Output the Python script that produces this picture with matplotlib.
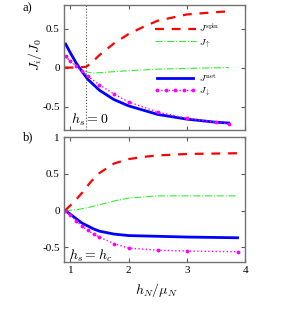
import numpy as np
import matplotlib
matplotlib.use("Agg")
import matplotlib.pyplot as plt

plt.rcParams['font.family'] = ['Liberation Serif', 'DejaVu Serif']
plt.rcParams['mathtext.fontset'] = 'cm'

# ---- panel a) h_s = 0 ----
xa_spin = [0.9, 1.1, 1.27, 1.35, 1.5, 1.75, 2.0, 2.25, 2.5, 3.0, 3.5, 3.72]
ya_spin = [0.0, 0.0, 0.01, 0.05, 0.16, 0.31, 0.43, 0.52, 0.60, 0.68, 0.71, 0.72]
xa_up = [0.92, 1.0, 1.1, 1.2, 1.3, 1.4, 1.6, 2.0, 2.5, 3.0, 3.72]
ya_up = [0.13, 0.08, 0.02, -0.03, -0.06, -0.07, -0.06, -0.04, -0.02, -0.01, 0.0]
xa_net = [0.92, 1.0, 1.1, 1.2, 1.3, 1.5, 1.75, 2.0, 2.5, 3.0, 3.5, 3.72]
ya_net = [0.30, 0.19, 0.06, -0.05, -0.15, -0.29, -0.41, -0.49, -0.60, -0.66, -0.70, -0.71]
xa_dn = [0.92, 1.0, 1.1, 1.2, 1.3, 1.5, 1.75, 2.0, 2.5, 3.0, 3.5, 3.72]
ya_dn = [0.15, 0.09, 0.02, -0.05, -0.11, -0.22, -0.34, -0.44, -0.57, -0.65, -0.70, -0.72]
x_mark = 1.27

# ---- panel b) h_s = h_c ----
xb_spin = [0.91, 1.0, 1.1, 1.2, 1.35, 1.5, 1.75, 2.0, 2.25, 2.5, 3.0, 3.87]
yb_spin = [0.0, 0.07, 0.15, 0.24, 0.39, 0.51, 0.64, 0.70, 0.73, 0.75, 0.77, 0.78]
xb_up = [0.91, 1.1, 1.3, 1.5, 1.75, 2.0, 2.5, 3.0, 3.87]
yb_up = [0.0, 0.01, 0.04, 0.08, 0.13, 0.17, 0.20, 0.20, 0.20]
xb_net = [0.91, 1.0, 1.1, 1.2, 1.3, 1.4, 1.5, 1.75, 2.0, 2.5, 3.0, 3.87]
yb_net = [0.0, -0.05, -0.11, -0.17, -0.21, -0.25, -0.28, -0.32, -0.34, -0.35, -0.36, -0.37]
xb_dn = [0.91, 1.0, 1.1, 1.2, 1.3, 1.4, 1.5, 1.75, 2.0, 2.5, 3.0, 3.87]
yb_dn = [0.0, -0.06, -0.14, -0.21, -0.27, -0.32, -0.36, -0.45, -0.51, -0.54, -0.55, -0.56]

xticks = [1, 2, 3, 4]
yticks_a = [-0.5, 0, 0.5]
ytlab_a = ['-0.5', '0', '0.5']
yticks_b = [-0.5, 0, 0.5, 1]
ytlab_b = ['-0.5', '0', '0.5', '1']

fig = plt.figure(figsize=(3.0, 3.18), dpi=100)
axa = fig.add_axes([0.213, 0.591, 0.604, 0.393])
axb = fig.add_axes([0.213, 0.176, 0.604, 0.393])

def draw(ax, xs, ys, xu, yu, xn, yn, xd, yd):
    l1, = ax.plot(xs, ys, color='#ff0000', lw=1.6, ls=(0, (4, 3.5)), label=r'$J^{\rm spin}$')
    l2, = ax.plot(xu, yu, color='#33ee33', lw=0.8, ls='-.', label=r'$J_{\uparrow}$')
    l3, = ax.plot(xn, yn, color='#0000ff', lw=2.0, ls='-', label=r'$J^{\rm net}$')
    l4, = ax.plot(xd, yd, color='#ff00ff', lw=1.0, ls=':', marker='.', ms=3.5, label=r'$J_{\downarrow}$')
    return l1, l2, l3, l4

la = draw(axa, xa_spin, ya_spin, xa_up, ya_up, xa_net, ya_net, xa_dn, ya_dn)
draw(axb, xb_spin, yb_spin, xb_up, yb_up, xb_net, yb_net, xb_dn, yb_dn)
axa.axvline(x_mark, color='0.3', lw=0.8, ls=':')

for ax in (axa, axb):
    ax.set_xlim(0.89, 4.0)
    ax.set_xticks(xticks)
    ax.tick_params(direction='in', top=True, right=True, length=3, width=0.8,
                   labelsize=8, color='0.35', pad=3)
    for s in ax.spines.values():
        s.set_color('0.45')
        s.set_linewidth(1.0)

axa.set_ylim(-0.8, 0.8)
axa.set_yticks(yticks_a)
axa.set_yticklabels(ytlab_a)
axa.set_xticklabels([])
axb.set_ylim(-0.7, 1.0)
axb.set_yticks(yticks_b)
axb.set_yticklabels(ytlab_b)
axb.set_xticklabels([str(t) for t in xticks])

leg1 = axa.legend(handles=[la[0], la[1]], loc='upper left', bbox_to_anchor=(0.5, 0.87),
                  frameon=False, fontsize=7, handlelength=4.3, labelspacing=0.25,
                  handletextpad=0.3, borderpad=0, borderaxespad=0)
axa.add_artist(leg1)
axa.legend(handles=[la[2], la[3]], loc='upper left', bbox_to_anchor=(0.5, 0.465),
           frameon=False, fontsize=7, handlelength=4.3, labelspacing=0.2,
           handletextpad=0.3, borderpad=0, borderaxespad=0, numpoints=5)

axa.text(0.04, 0.08, r'$h_s = 0$', transform=axa.transAxes, fontsize=10, va='center', ha='left')
axb.text(0.03, 0.05, r'$h_s = h_c$', transform=axb.transAxes, fontsize=10, va='center', ha='left')

fig.text(0.075, 0.975, 'a)', fontsize=9, va='center', ha='left')
fig.text(0.075, 0.567, 'b)', fontsize=9, va='center', ha='left')
fig.text(0.115, 0.83, r'$J_i/J_0$', fontsize=10, rotation=90, va='center', ha='center')
fig.text(0.52, 0.088, r'$h_N/\mu_N$', fontsize=10, va='center', ha='center')

fig.savefig('out.png', dpi=100)
